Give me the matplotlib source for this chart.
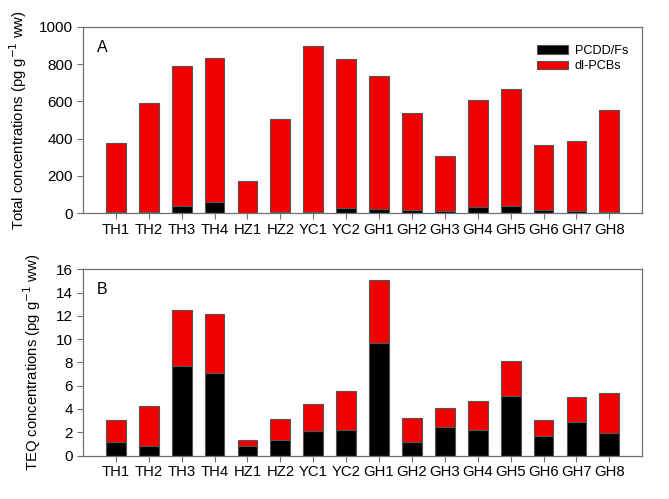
import numpy as np
import matplotlib.pyplot as plt

plt.rcParams['font.family'] = ['Liberation Sans', 'DejaVu Sans']

sites = ["TH1", "TH2", "TH3", "TH4", "HZ1", "HZ2", "YC1", "YC2",
         "GH1", "GH2", "GH3", "GH4", "GH5", "GH6", "GH7", "GH8"]

# panel A: total concentrations (pg/g ww)
total_all = [379, 592, 788, 834, 175, 506, 899, 827,
             737, 540, 309, 609, 664, 368, 385, 556]
total_pcdd = [5, 5, 39, 59, 3, 7, 4, 25,
              20, 16, 9, 34, 39, 16, 9, 4]

# panel B: TEQ concentrations (pg/g ww)
teq_all = [3.06, 4.29, 12.48, 12.16, 1.35, 3.15, 4.41, 5.58,
           15.11, 3.21, 4.06, 4.72, 8.10, 3.09, 5.01, 5.41]
teq_pcdd = [1.17, 0.83, 7.73, 7.07, 0.80, 1.37, 2.12, 2.20,
            9.70, 1.20, 2.43, 2.23, 5.15, 1.66, 2.92, 1.92]

spine_col = "#707070"
edge_col = "#555555"


def draw_panel(ax, pcdd, allv, ymax, ystep, ylabel, letter, label_x):
    x = np.arange(len(sites))
    pcb = np.array(allv) - np.array(pcdd)
    ax.bar(x, pcdd, width=0.6, color="black", edgecolor=edge_col,
           linewidth=0.8, label="PCDD/Fs")
    ax.bar(x, pcb, width=0.6, bottom=pcdd, color="#f20000",
           edgecolor=edge_col, linewidth=0.8, label="dl-PCBs")
    ax.set_xlim(-1, len(sites))
    ax.set_ylim(0, ymax)
    ax.set_yticks(np.arange(0, ymax + ystep / 2, ystep))
    ax.set_xticks(x)
    ax.set_xticklabels(sites, fontsize=10.7)
    ax.tick_params(axis="y", labelsize=11)
    ax.tick_params(direction="out", length=4, width=0.8, color=spine_col, pad=3)
    for s in ax.spines.values():
        s.set_color(spine_col)
        s.set_linewidth(0.9)
    ax.set_ylabel(ylabel, fontsize=10.7)
    ax.yaxis.set_label_coords(label_x, 0.5)
    ax.text(0.025, 0.89, letter, transform=ax.transAxes, fontsize=11.5,
            va="center", ha="left")


fig = plt.figure(figsize=(6.69, 4.99), dpi=100)
axA = fig.add_axes([0.124, 0.573, 0.836, 0.373])
axB = fig.add_axes([0.124, 0.087, 0.836, 0.3735])

draw_panel(axA, total_pcdd, total_all, 1000, 200,
           "Total concentrations (pg g$^{-1}$ ww)", "A", -0.096)
draw_panel(axB, teq_pcdd, teq_all, 16, 2,
           "TEQ concentrations (pg g$^{-1}$ ww)", "B", -0.072)

axA.legend(loc="upper left", bbox_to_anchor=(0.812, 0.905), frameon=False,
           fontsize=9.2, borderaxespad=0, borderpad=0, handlelength=2.4,
           handleheight=0.7, handletextpad=0.55, labelspacing=0.3)

fig.savefig("out.png", dpi=100)
